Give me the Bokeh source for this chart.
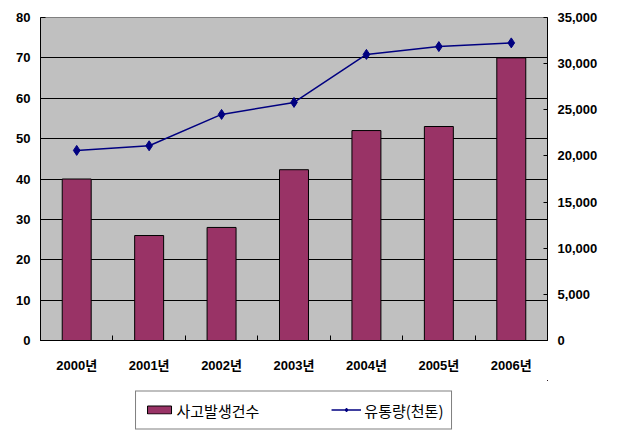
from bokeh.plotting import figure
from bokeh.layouts import column
from bokeh.models import (Range1d, LinearAxis, FixedTicker, NumeralTickFormatter,
                          Legend, LegendItem, ColumnDataSource)
from bokeh.embed import file_html
from bokeh.resources import INLINE

categories = ["2000년", "2001년", "2002년", "2003년", "2004년", "2005년", "2006년"]
accidents = [40, 26, 28, 42.3, 52, 53, 70]            # 사고발생건수 (left axis)
volume = [20600, 21100, 24500, 25800, 31000, 31850, 32250]  # 유통량(천톤) (right axis)
left_ticks = [0, 10, 20, 30, 40, 50, 60, 70, 80]
right_ticks = [0, 5000, 10000, 15000, 20000, 25000, 30000, 35000]
series_names = ["사고발생건수", "유통량(천톤)"]

xs = list(range(len(categories)))
src = ColumnDataSource(dict(x=xs, acc=accidents, vol=volume))

FONT = "Liberation Sans, Arial, Noto Sans CJK KR"
BAR_COLOR = "#993366"
LINE_COLOR = "#000080"

p = figure(frame_width=507, frame_height=323, output_backend="svg", toolbar_location=None,
           x_range=Range1d(-0.5, len(categories) - 0.5), y_range=Range1d(0, 80),
           min_border_left=40, min_border_right=71, min_border_top=17, min_border_bottom=40,
           background_fill_color="#C0C0C0", border_fill_color="white",
           outline_line_color="#808080")
p.extra_y_ranges = {"right": Range1d(0, 35000)}

p.vbar(x="x", top="acc", width=0.4, source=src, fill_color=BAR_COLOR,
       line_color="black", line_width=1)
p.line(x="x", y="vol", source=src, y_range_name="right", line_color=LINE_COLOR,
       line_width=1.5)
p.scatter(x="x", y="vol", source=src, y_range_name="right", marker="diamond",
          size=10, fill_color=LINE_COLOR, line_color=LINE_COLOR)

# grid
p.xgrid.visible = False
p.ygrid.ticker = FixedTicker(ticks=left_ticks)
p.ygrid.grid_line_color = "black"
p.ygrid.grid_line_width = 1

# x axis
xa = p.xaxis[0]
xa.ticker = FixedTicker(ticks=xs, minor_ticks=[i - 0.5 for i in range(len(categories) + 1)])
xa.major_label_overrides = {i: c for i, c in enumerate(categories)}
xa.major_tick_line_color = None
xa.major_tick_out = 0
xa.major_tick_in = 0
xa.minor_tick_in = 5
xa.minor_tick_out = 0
xa.minor_tick_line_color = "black"
xa.axis_line_color = "black"
xa.major_label_text_font = FONT
xa.major_label_text_font_style = "bold"
xa.major_label_text_font_size = "13px"
xa.major_label_text_color = "black"
xa.major_label_standoff = 17

# left axis
ya = p.yaxis[0]
ya.ticker = FixedTicker(ticks=left_ticks)
ya.major_tick_in = 5
ya.major_tick_out = 0
ya.minor_tick_line_color = None
ya.axis_line_color = "black"
ya.major_label_text_font = FONT
ya.major_label_text_font_style = "bold"
ya.major_label_text_font_size = "13px"
ya.major_label_text_color = "black"
ya.major_label_standoff = 10

# right axis
ra = LinearAxis(y_range_name="right", ticker=FixedTicker(ticks=right_ticks),
                formatter=NumeralTickFormatter(format="0,0"))
ra.major_tick_in = 4
ra.major_tick_out = 0
ra.minor_tick_line_color = None
ra.axis_line_color = "black"
ra.major_label_text_font = FONT
ra.major_label_text_font_style = "bold"
ra.major_label_text_font_size = "13px"
ra.major_label_text_color = "black"
ra.major_label_standoff = 10
p.add_layout(ra, "right")

# legend strip below the chart: same series re-drawn out of view, only the legend shows
lg = figure(width=618, height=59, output_backend="svg", toolbar_location=None,
            x_range=Range1d(-200, -199), y_range=Range1d(-1000, -999),
            x_axis_type=None, y_axis_type=None,
            min_border_left=0, min_border_right=6, min_border_top=0, min_border_bottom=0,
            outline_line_color=None, background_fill_color="white", border_fill_color="white")
lg.xgrid.visible = False
lg.ygrid.visible = False
sw_bar = lg.vbar(x="x", top="acc", width=0.4, source=src, fill_color=BAR_COLOR,
                 line_color="black", line_width=1)
sw_line = lg.line(x="x", y="vol", source=src, line_color=LINE_COLOR, line_width=1.5)
sw_pts = lg.scatter(x="x", y="vol", source=src, marker="diamond", size=10,
                    fill_color=LINE_COLOR, line_color=LINE_COLOR)

legend = Legend(items=[LegendItem(label=series_names[0], renderers=[sw_bar]),
                       LegendItem(label=series_names[1], renderers=[sw_line, sw_pts])],
                orientation="horizontal", location="center")
legend.border_line_color = "black"
legend.border_line_width = 1
legend.background_fill_color = "white"
legend.background_fill_alpha = 1
legend.label_text_font = "Noto Sans CJK KR"
legend.label_text_font_size = "15px"
legend.label_text_color = "black"
legend.glyph_width = 30
legend.glyph_height = 10
legend.label_standoff = 3
legend.spacing = 72
legend.padding = 8
legend.margin = 0
legend.label_height = 14
lg.add_layout(legend, "center")

layout = column(p, lg, spacing=0)
open("out.html", "w").write(file_html(layout, INLINE))
